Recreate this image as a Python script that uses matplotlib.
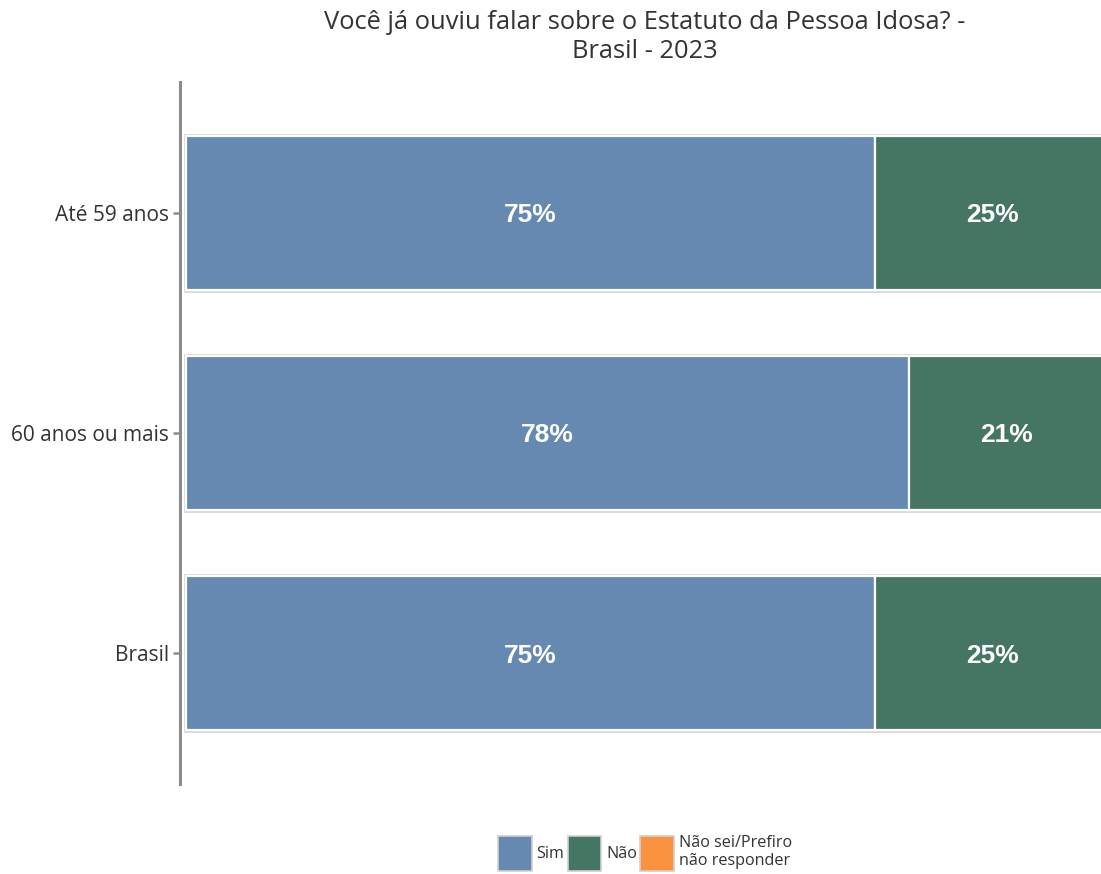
import numpy as np
import matplotlib.pyplot as plt
from matplotlib.patches import Patch

grupos = ["Até 59 anos", "60 anos ou mais", "Brasil"]
sim = [74.6, 78.3, 74.6]
nao = [25.4, 21.0, 25.4]
nao_sei = [0.0, 0.7, 0.0]
series_nomes = ["Sim", "Não", "Não sei/Prefiro\nnão responder"]
cores = ["#6589B0", "#457563", "#FA923F"]

plt.rcParams['font.family'] = ['Open Sans', 'DejaVu Sans']

fig = plt.figure(figsize=(11.01, 8.74), dpi=100)
ax = fig.add_axes([180/1101, 1-784/874, 930/1101, (784-82)/874])

y = np.arange(len(grupos))
left = np.zeros(len(grupos))
for vals, cor in zip([sim, nao, nao_sei], cores):
    vals = np.array(vals, dtype=float)
    # grey outline underneath, white border on top
    ax.barh(y, vals, left=left, height=0.7, color=cor, edgecolor="#d9d9d9", linewidth=3.5, zorder=2)
    ax.barh(y, vals, left=left, height=0.7, color=cor, edgecolor="white", linewidth=1.6, zorder=3)
    for yi, v, l in zip(y, vals, left):
        if v >= 5:
            ax.text(l + v/2, yi, f"{v:.0f}%", ha="center", va="center_baseline", color="white",
                    fontsize=19, fontweight="bold", family="Liberation Sans", zorder=4)
    left += vals

ax.set_xlim(-0.65, 100)
ax.set_ylim(2.595, -0.595)
ax.set_yticks(y)
ax.set_yticklabels(grupos, fontsize=15, color="#333333")
ax.set_xticks([])
for s in ["top", "right", "bottom"]:
    ax.spines[s].set_visible(False)
ax.spines["left"].set_color("#8c8c8c")
ax.spines["left"].set_linewidth(2.2)
ax.tick_params(axis="y", length=5, width=1.8, color="#8c8c8c", pad=3)

ax.set_title("Você já ouviu falar sobre o Estatuto da Pessoa Idosa? -\nBrasil - 2023",
             fontsize=18.4, color="#333333", pad=17, linespacing=1.22)

handles = [Patch(facecolor=c, edgecolor="#d0d0d0", linewidth=1.2) for c in cores]
fig.legend(handles, series_nomes, loc="center", bbox_to_anchor=(645/1101, 1-853/874),
           ncol=3, frameon=False, fontsize=11.6, handlelength=2.1, handleheight=3.0,
           handletextpad=0.3, columnspacing=0.2, labelcolor="#333333", borderaxespad=0)

fig.savefig("out.png", dpi=100)
